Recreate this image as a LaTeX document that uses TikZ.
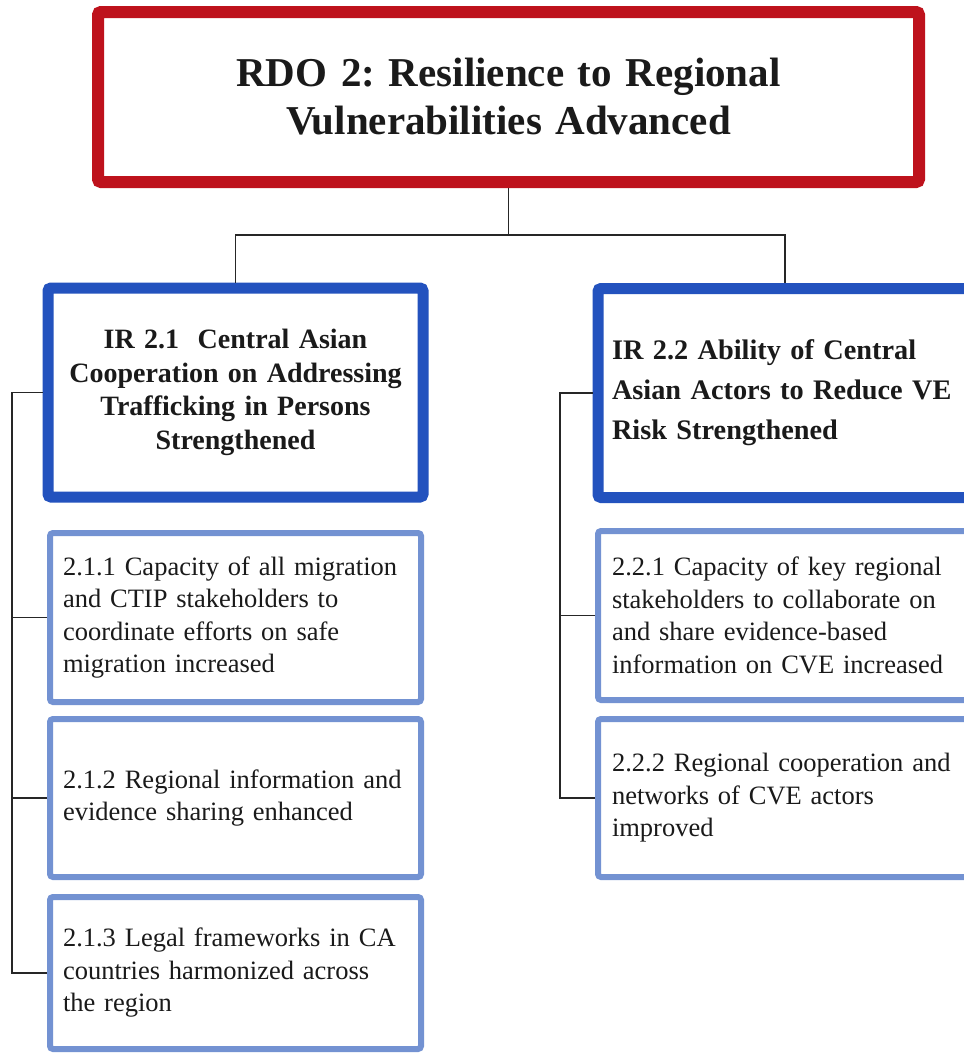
\documentclass[tikz,border=0pt]{standalone}
\usepackage{fontspec}
\setmainfont{Liberation Serif}
\frenchspacing
\definecolor{rdored}{HTML}{BE121C}
\definecolor{irblue}{HTML}{2352BE}
\definecolor{subblue}{HTML}{7392D2}
\definecolor{linkgray}{HTML}{262626}
\definecolor{txt}{HTML}{1A1A1A}
\begin{document}
\begin{tikzpicture}[x=1pt,y=-1pt,
  box/.style={draw, fill=white, rounded corners=3pt, text=txt, anchor=center},
  rdobox/.style={box, draw=rdored, line width=12pt, inner xsep=0pt,
    text width=821pt, minimum height=170pt, align=center,
    font=\fontsize{41}{48}\selectfont\bfseries},
  irbox/.style={box, draw=irblue, line width=11pt, inner xsep=14pt,
    minimum height=209pt},
  subbox/.style={box, draw=subblue, line width=6pt, inner xsep=13pt,
    align=left, font=\fontsize{26.5}{32.5}\selectfont},
  link/.style={draw=linkgray, line width=1.5pt}]
\useasboundingbox (0,0) rectangle (964,1053);
\clip (0,0) rectangle (964,1053);
\fill[white] (0,0) rectangle (964,1053);

% top-level objective
\node[rdobox] (rdo) at (508.5,97) {RDO 2: Resilience to Regional\\Vulnerabilities Advanced};

% intermediate results
\node[irbox, text width=347pt, align=center,
  font=\fontsize{28}{33.7}\selectfont\bfseries] (ir1) at (235.5,392.5)
  {IR 2.1\ \ Central Asian\\Cooperation on Addressing\\Trafficking in Persons\\Strengthened};
\node[irbox, text width=346pt, align=left,
  font=\fontsize{28.3}{40}\selectfont\bfseries] (ir2) at (785,393)
  {IR 2.2 Ability of Central\\Asian Actors to Reduce VE\\Risk Strengthened};

% sub-results under IR 2.1
\node[subbox, text width=345pt, minimum height=169pt] (s11) at (235.5,617.5)
  {2.1.1 Capacity of all migration\\and CTIP stakeholders to\\coordinate efforts on safe\\migration increased};
\node[subbox, text width=345pt, minimum height=158pt] (s12) at (235.5,798)
  {2.1.2 Regional information and\\evidence sharing enhanced};
\node[subbox, text width=345pt, minimum height=152pt] (s13) at (235.5,973)
  {2.1.3 Legal frameworks in CA\\countries harmonized across\\the region};

% sub-results under IR 2.2
\node[subbox, text width=346pt, inner xsep=14pt, minimum height=169pt] (s21) at (785,615.5)
  {2.2.1 Capacity of key regional\\stakeholders to collaborate on\\and share evidence-based\\information on CVE increased};
\node[subbox, text width=346pt, inner xsep=14pt, minimum height=158pt] (s22) at (785,798)
  {2.2.2 Regional cooperation and\\networks of CVE actors\\improved};

% connector rails
\coordinate (bus) at (0,235);
\coordinate (railL) at (12,0);
\coordinate (railR) at (560,0);

\path[link] (rdo.south) -- (rdo.south |- bus);
\path[link] (ir1.north) -- (ir1.north |- bus) -- (ir2.north |- bus) -- (ir2.north);

\path[link] (ir1.west) -- (ir1.west -| railL) |- (s13.west);
\path[link] (s11.west) -- (s11.west -| railL);
\path[link] (s12.west) -- (s12.west -| railL);

\path[link] (ir2.west) -- (ir2.west -| railR) |- (s22.west);
\path[link] (s21.west) -- (s21.west -| railR);
\end{tikzpicture}
\end{document}
